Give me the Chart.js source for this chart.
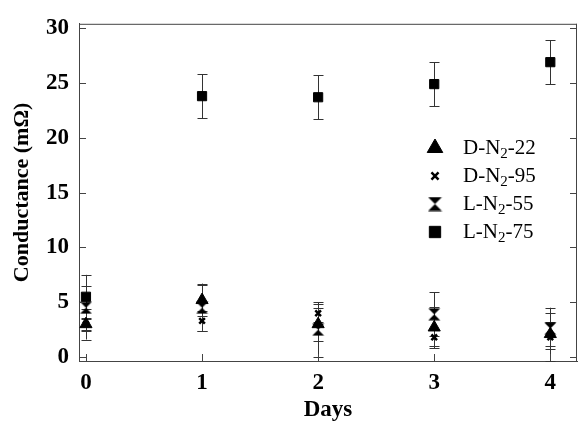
<!DOCTYPE html>
<html>
<head>
<meta charset="utf-8">
<script src="https://cdn.jsdelivr.net/npm/chart.js@4.4.1/dist/chart.umd.min.js"></script>
<style>
  html, body { margin: 0; padding: 0; background: #fff; }
  #wrap { width: 585px; height: 425px; }
</style>
</head>
<body>
<div id="wrap"><canvas id="condChart" width="585" height="425"></canvas></div>
<script>
var days = [0, 1, 2, 3, 4];
var yTicks = [0, 5, 10, 15, 20, 25, 30];

var d22 = [3.0, 5.2, 3.0, 2.7, 2.1];
var d22Err = [1.4, 1.5, 1.5, 1.9, 1.1];
var d95 = [3.0, 3.3, 4.0, 1.8, 1.8];
var d95Err = [0.6, 0.9, 0.8, 0.8, 2.2];
var l55 = [4.5, 4.5, 2.5, 3.9, 2.6];
var l55Err = [2.0, 2.1, 2.5, 2.0, 1.9];
var l75 = [5.5, 23.8, 23.7, 24.9, 26.9];
var l75Err = [2.0, 2.0, 2.0, 2.0, 2.0];

var serif = '"Liberation Serif", "Times New Roman", serif';

// hourglass marker (two triangles tip to tip)
function hourglass(size) {
    var c = document.createElement('canvas');
    c.width = size; c.height = size;
    var g = c.getContext('2d');
    g.fillStyle = '#000';
    g.beginPath();
    g.moveTo(0.5, 0.5);
    g.lineTo(size - 0.5, 0.5);
    g.lineTo(0.5, size - 0.5);
    g.lineTo(size - 0.5, size - 0.5);
    g.closePath();
    g.fill();
    return c;
}
var hgData = hourglass(13);
var hgLegend = hourglass(15);

function pts(vals) {
    return days.map(function (d, i) { return { x: d, y: vals[i] }; });
}

var series = [
    { label: 'D-N|2|-22', vals: d22, err: d22Err, style: 'triangle', r: 7, lr: 9, bw: 1 },
    { label: 'D-N|2|-95', vals: d95, err: d95Err, style: 'crossRot', r: 4, lr: 5, bw: 2.5 },
    { label: 'L-N|2|-55', vals: l55, err: l55Err, style: hgData, legendStyle: hgLegend, r: 6, lr: 7, bw: 1 },
    { label: 'L-N|2|-75', vals: l75, err: l75Err, style: 'rect', r: 6.5, lr: 8, bw: 1 }
];

var errorBars = {
    id: 'errorBars',
    beforeDatasetsDraw: function (chart) {
        var ctx = chart.ctx, xs = chart.scales.x, ys = chart.scales.y, a = chart.chartArea;
        ctx.save();
        ctx.beginPath();
        ctx.rect(a.left, a.top, a.right - a.left, a.bottom - a.top + 1);
        ctx.clip();
        ctx.strokeStyle = '#333';
        ctx.lineWidth = 1;
        series.forEach(function (s) {
            days.forEach(function (d, i) {
                var x = Math.round(xs.getPixelForValue(d)) + 0.5;
                var y1 = ys.getPixelForValue(s.vals[i] + s.err[i]);
                var y2 = ys.getPixelForValue(s.vals[i] - s.err[i]);
                ctx.beginPath();
                ctx.moveTo(x, y1); ctx.lineTo(x, y2);
                ctx.moveTo(x - 5, Math.round(y1) + 0.5); ctx.lineTo(x + 5, Math.round(y1) + 0.5);
                ctx.moveTo(x - 5, Math.round(y2) + 0.5); ctx.lineTo(x + 5, Math.round(y2) + 0.5);
                ctx.stroke();
            });
        });
        ctx.restore();
    }
};

var frame = {
    id: 'frame',
    afterDraw: function (chart) {
        var ctx = chart.ctx, xs = chart.scales.x, ys = chart.scales.y, a = chart.chartArea;
        ctx.save();
        ctx.strokeStyle = '#444';
        ctx.lineWidth = 1;
        ctx.beginPath();
        ctx.moveTo(a.left, a.top + 0.5); ctx.lineTo(a.right, a.top + 0.5);
        ctx.moveTo(a.right - 0.5, a.top); ctx.lineTo(a.right - 0.5, a.bottom);
        yTicks.forEach(function (t) {
            var y = Math.round(ys.getPixelForValue(t)) + 0.5;
            ctx.moveTo(a.left, y); ctx.lineTo(a.left + 7, y);
            ctx.moveTo(a.right, y); ctx.lineTo(a.right - 7, y);
        });
        days.forEach(function (d) {
            var x = Math.round(xs.getPixelForValue(d)) + 0.5;
            ctx.moveTo(x, a.bottom); ctx.lineTo(x, a.bottom - 7);
        });
        ctx.stroke();

        // legend
        var lx = 435, ly = [148, 176, 204, 232];
        series.forEach(function (s, i) {
            var st = s.legendStyle || s.style;
            ctx.fillStyle = '#000';
            ctx.strokeStyle = '#000';
            ctx.lineWidth = s.bw;
            if (Chart.helpers && Chart.helpers.drawPoint) {
                Chart.helpers.drawPoint(ctx, { pointStyle: st, rotation: 0, radius: s.lr, borderWidth: s.bw }, lx, ly[i]);
            }
            var parts = s.label.split('|');
            var x = 463;
            ctx.textBaseline = 'middle';
            ctx.textAlign = 'left';
            ctx.font = '21px ' + serif;
            ctx.fillText(parts[0], x, ly[i]);
            x += ctx.measureText(parts[0]).width;
            ctx.font = '15px ' + serif;
            ctx.fillText(parts[1], x, ly[i] + 6);
            x += ctx.measureText(parts[1]).width;
            ctx.font = '21px ' + serif;
            ctx.fillText(parts[2], x, ly[i]);
        });
        ctx.restore();
    }
};

var condChart = new Chart(document.getElementById('condChart'), {
    type: 'scatter',
    data: {
        datasets: series.map(function (s) {
            return {
                label: s.label.replace(/\|/g, ''),
                data: pts(s.vals),
                pointStyle: s.style,
                pointRadius: s.r,
                pointHoverRadius: s.r,
                pointBackgroundColor: '#000',
                pointBorderColor: '#000',
                pointBorderWidth: s.bw,
                showLine: false
            };
        })
    },
    options: {
        responsive: false,
        animation: false,
        layout: { padding: { top: 17, right: 1, left: 0, bottom: 0 } },
        plugins: { legend: { display: false }, tooltip: { enabled: false } },
        scales: {
            x: {
                type: 'linear',
                min: -0.06,
                max: 4.23,
                afterBuildTicks: function (scale) {
                    scale.ticks = days.map(function (d) { return { value: d }; });
                },
                afterFit: function (scale) { scale.height = 64; },
                grid: { display: false, drawTicks: false },
                border: { display: true, color: '#444', width: 1 },
                ticks: { color: '#000', padding: 8, font: { family: serif, size: 23, weight: 'bold' } },
                title: { display: true, text: 'Days', color: '#000', padding: { top: 0, bottom: 1 }, font: { family: serif, size: 23, weight: 'bold' } }
            },
            y: {
                min: -0.36,
                max: 30.4,
                afterBuildTicks: function (scale) {
                    scale.ticks = yTicks.map(function (t) { return { value: t }; });
                },
                afterFit: function (scale) { scale.width = 79; },
                grid: { display: false, drawTicks: false },
                border: { display: true, color: '#444', width: 1 },
                ticks: { color: '#000', padding: 10, font: { family: serif, size: 23, weight: 'bold' } },
                title: { display: true, text: 'Conductance (mΩ)', color: '#000', padding: { top: 9, bottom: 0 }, font: { family: serif, size: 22, weight: 'bold' } }
            }
        }
    },
    plugins: [errorBars, frame]
});
</script>
</body>
</html>
